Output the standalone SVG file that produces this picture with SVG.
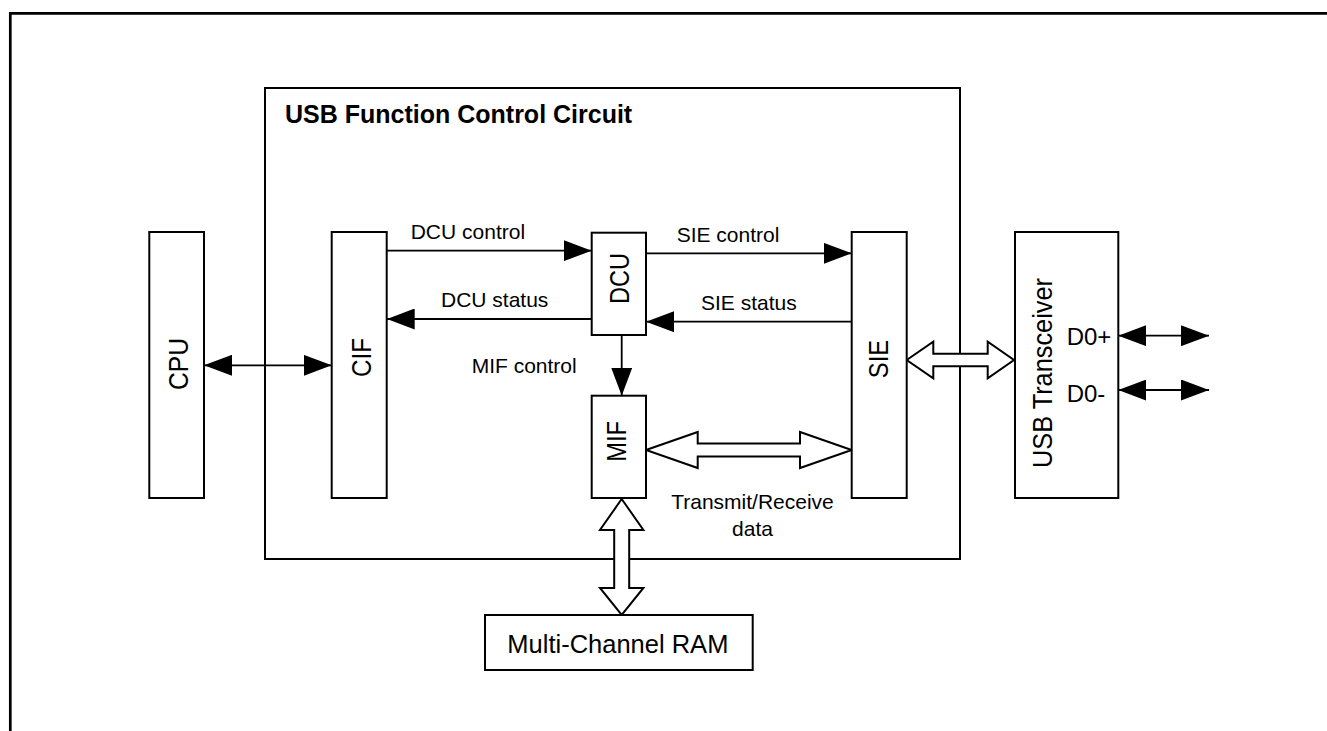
<svg xmlns="http://www.w3.org/2000/svg" width="1327" height="731" viewBox="0 0 1327 731">
<style>
.box{fill:#fff;stroke:#000;stroke-width:2}
.frame{fill:none;stroke:#000;stroke-width:2.7}
.ln{fill:none;stroke:#000;stroke-width:1.8}
.hollow{fill:#fff;stroke:#000;stroke-width:2;stroke-linejoin:miter}
text{font-family:"Liberation Sans",Arial,sans-serif;fill:#000}
.lbl{font-size:21px}
.big{font-size:25.5px}
.title{font-size:25px;font-weight:bold}
.rot{font-size:28px;text-anchor:middle}
.d{font-size:24px}
</style>
<defs>
<marker id="ah" markerUnits="userSpaceOnUse" markerWidth="28" markerHeight="21" refX="28" refY="10.5" orient="auto-start-reverse" viewBox="0 0 28 21">
<path d="M0,0 L28,10.5 L0,21 Z" fill="#000"/>
</marker>
</defs>
<rect width="1327" height="731" fill="#fff"/>
<path class="frame" d="M10.3,731 V13.3 H1327"/>

<g id="usb-function-control-circuit">
<rect class="box" x="265" y="88" width="695" height="471" fill="none"/>
<text class="title" x="285" y="123">USB Function Control Circuit</text>
</g>

<g id="connectors">
<line class="ln" x1="204" y1="365.3" x2="331.7" y2="365.3" marker-start="url(#ah)" marker-end="url(#ah)"/>
<line class="ln" x1="386.7" y1="250.7" x2="591.7" y2="250.7" marker-end="url(#ah)"/>
<line class="ln" x1="646" y1="253.3" x2="851.7" y2="253.3" marker-end="url(#ah)"/>
<line class="ln" x1="591.7" y1="319" x2="386.7" y2="319" marker-end="url(#ah)"/>
<line class="ln" x1="851.7" y1="321.7" x2="646" y2="321.7" marker-end="url(#ah)"/>
<line class="ln" x1="621.7" y1="335" x2="621.7" y2="395.7" marker-end="url(#ah)"/>
<line class="ln" x1="1118.3" y1="335.7" x2="1209" y2="335.7" marker-start="url(#ah)" marker-end="url(#ah)"/>
<line class="ln" x1="1118.3" y1="390" x2="1209" y2="390" marker-start="url(#ah)" marker-end="url(#ah)"/>
<polygon class="hollow" points="646,450 697.7,432 697.7,443.5 800,443.5 800,432 851.7,450 800,468 800,456.5 697.7,456.5 697.7,468"/>
<polygon class="hollow" points="906.7,360 933.3,341.7 933.3,353.7 987.7,353.7 987.7,341.7 1014,360 987.7,378.3 987.7,366.3 933.3,366.3 933.3,378.3"/>
<polygon class="hollow" points="621.7,499 643.4,530 629.2,530 629.2,588 643.4,588 621.7,615 600,588 614.2,588 614.2,530 600,530"/>
<text class="lbl" x="410.7" y="239">DCU control</text>
<text class="lbl" x="676.7" y="241.7">SIE control</text>
<text class="lbl" x="441" y="307.3">DCU status</text>
<text class="lbl" x="701" y="310">SIE status</text>
<text class="lbl" x="471.7" y="373.3">MIF control</text>
<text class="lbl" x="752.5" y="509" text-anchor="middle">Transmit/Receive</text>
<text class="lbl" x="752.5" y="536" text-anchor="middle">data</text>
</g>

<g id="cpu">
<rect class="box" x="149.3" y="232" width="54.7" height="266"/>
<text class="rot" transform="translate(187.7,364) rotate(-90)" textLength="52" lengthAdjust="spacingAndGlyphs">CPU</text>
</g>

<g id="cif">
<rect class="box" x="331.7" y="232" width="55" height="266"/>
<text class="rot" transform="translate(370.7,357.5) rotate(-90)" textLength="39" lengthAdjust="spacingAndGlyphs">CIF</text>
</g>

<g id="dcu">
<rect class="box" x="591.7" y="232.7" width="54.3" height="102.3"/>
<text class="rot" transform="translate(629.3,278.5) rotate(-90)" textLength="51" lengthAdjust="spacingAndGlyphs">DCU</text>
</g>

<g id="mif">
<rect class="box" x="591.7" y="395.7" width="54.3" height="102.3"/>
<text class="rot" transform="translate(625.7,441.3) rotate(-90)" textLength="40.7" lengthAdjust="spacingAndGlyphs">MIF</text>
</g>

<g id="sie">
<rect class="box" x="851.7" y="232" width="55" height="266"/>
<text class="rot" transform="translate(888.3,359) rotate(-90)" textLength="38.3" lengthAdjust="spacingAndGlyphs">SIE</text>
</g>

<g id="usb-transceiver">
<rect class="box" x="1015" y="232" width="103.3" height="266"/>
<text class="rot" transform="translate(1051.7,373) rotate(-90)" textLength="190" lengthAdjust="spacingAndGlyphs">USB Transceiver</text>
<text class="d" x="1066.7" y="345">D0+</text>
<text class="d" x="1066.7" y="401.7">D0-</text>
</g>

<g id="multi-channel-ram">
<rect class="box" x="485" y="615" width="267.7" height="55"/>
<text class="big" x="507.3" y="653.3">Multi-Channel RAM</text>
</g>
</svg>
